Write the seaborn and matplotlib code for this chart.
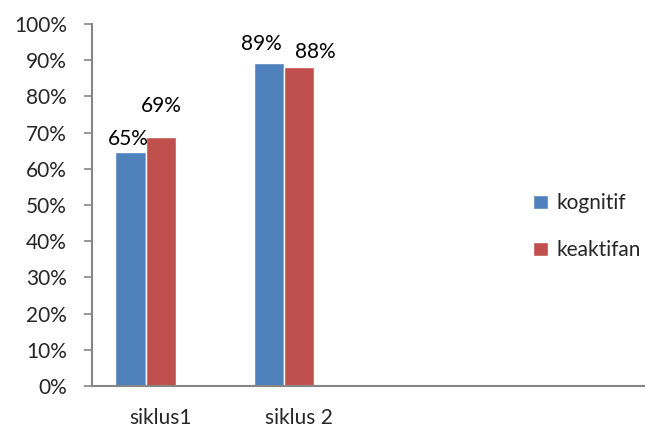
import matplotlib.pyplot as plt
import matplotlib.ticker as mticker
from matplotlib.patches import Patch
import seaborn as sns
import pandas as pd
import numpy as np

# data
categories = ["siklus1", "siklus 2", "c3", "c4"]
tick_labels = ["siklus1", "siklus 2", "", ""]
kognitif = [0.647, 0.893, np.nan, np.nan]
keaktifan = [0.688, 0.881, np.nan, np.nan]
kosong = [np.nan, np.nan, np.nan, np.nan]        # empty third series (keeps Excel spacing)
series = ["kognitif", "keaktifan", "Series3"]
colors = ["#4F81BD", "#C0504D", "#9BBB59"]

rows = []
for name, vals in zip(series, [kognitif, keaktifan, kosong]):
    for cat, v in zip(categories, vals):
        rows.append({"kategori": cat, "nilai": v, "seri": name})
df = pd.DataFrame(rows)

sns.set_style("white")
plt.rcParams["font.family"] = ["Lato", "DejaVu Sans"]
fs = 15

fig = plt.figure(figsize=(6.48, 4.29), dpi=100)
ax = fig.add_axes([0.142, 0.1, 0.852, 0.844])

sns.barplot(data=df, x="kategori", y="nilai", hue="seri", order=categories,
            hue_order=series, palette=colors, width=0.66, saturation=1,
            legend=False, ax=ax)

# data labels (Excel nudged them apart so they don't collide)
pads = {"kognitif": [(-2, 2), (-5, 6)], "keaktifan": [(0, 15), (12, 4)]}
for cont, name in zip(ax.containers[:2], series[:2]):
    for i, p in enumerate([p for p in cont if p.get_height() > 0]):
        h = p.get_height()
        ax.annotate(f"{h:.0%}", (p.get_x() + p.get_width() / 2, h),
                    xytext=pads[name][i], textcoords="offset points",
                    ha="center", va="bottom", fontsize=fs, color="black")

ax.set_xlim(-0.5, 3.5)
ax.set_ylim(0, 1.0)
ax.yaxis.set_major_locator(mticker.MultipleLocator(0.1))
ax.yaxis.set_major_formatter(mticker.PercentFormatter(1.0, decimals=0))
ax.set_xticks(range(4))
ax.set_xticklabels(tick_labels)
ax.set_xticks(np.arange(-0.5, 4.0, 1.0), minor=True)
ax.tick_params(axis="x", which="major", length=0, pad=16, labelsize=fs)
ax.tick_params(axis="x", which="minor", length=6, width=1.2, color="#868686", direction="out")
ax.tick_params(axis="y", length=6, width=1.2, color="#868686", direction="out",
               pad=12, labelsize=fs, left=True)
ax.set_xlabel("")
ax.set_ylabel("")

sns.despine(ax=ax)
for s in ["left", "bottom"]:
    ax.spines[s].set_color("#868686")
    ax.spines[s].set_linewidth(1.5)

handles = [Patch(facecolor=colors[0]), Patch(facecolor=colors[1])]
ax.legend(handles, series[:2], loc="center left", bbox_to_anchor=(0.765, 0.44),
          frameon=False, fontsize=fs, handlelength=0.7, handleheight=0.7,
          handletextpad=0.4, labelspacing=1.3)

fig.savefig("out.png", dpi=100)
